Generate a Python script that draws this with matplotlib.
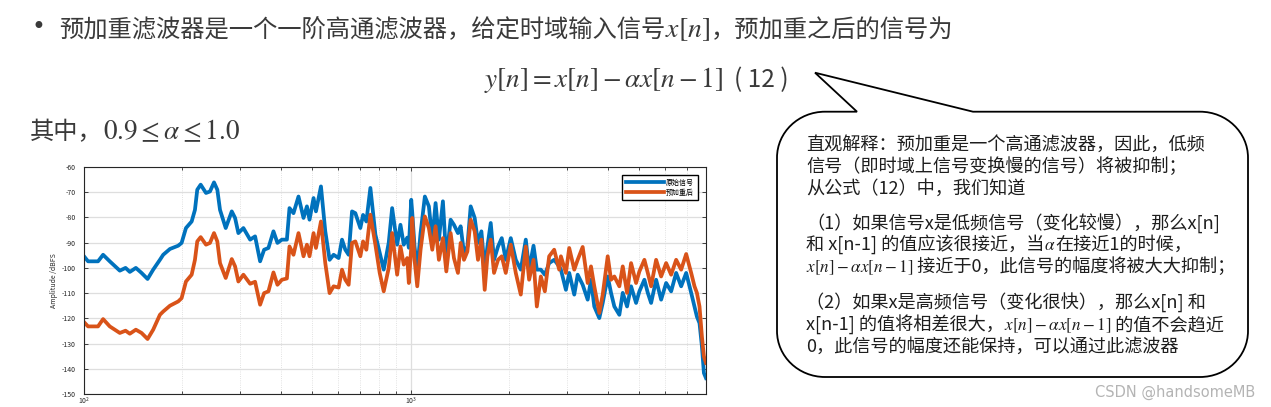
import numpy as np
import matplotlib
matplotlib.use('Agg')
import matplotlib.pyplot as plt
from matplotlib.path import Path
from matplotlib.patches import PathPatch
from matplotlib.ticker import NullFormatter

plt.rcParams['font.family'] = ['Noto Sans CJK SC', 'DejaVu Sans']
plt.rcParams['mathtext.fontset'] = 'stix'
plt.rcParams['axes.unicode_minus'] = False

# frequency (Hz) and amplitude (dBFS)
freq = [100, 102.9, 110.4, 114.4, 119.9, 128.7, 134.0, 138.1, 144.1, 150.0,
        156.5, 162.8, 170.7, 174.7, 183.2, 194.2, 198.9, 205.1, 213.5, 218.5,
        222.1, 227.5, 236.2, 242.9, 249.9, 255.8, 260.7, 271.4, 283.2, 289.9,
        296.7, 307.4, 322.3, 333.8, 345.8, 355.7, 366.7, 379.9, 390.7, 403.1,
        417.6, 425.3, 437.5, 453.2, 469.5, 480.9, 489.8, 503.9, 512.5, 530.9,
        547.3, 564.2, 580.3, 601.2, 615.8, 630.3, 645.2, 660.8, 676.4, 700.7,
        714.2, 731.0, 752.0, 779.0, 803.1, 826.1, 855.8, 876.6, 908.1, 929.5,
        951.4, 974.9, 986.0, 1002.8, 1009.9, 1026.5, 1046.2, 1070.9, 1103.9, 1135.5,
        1163.1, 1190.5, 1218.6, 1253.5, 1284.0, 1323.6, 1354.8, 1393.6, 1420.4, 1453.9,
        1489.3, 1524.4, 1568.0, 1605.0, 1644.0, 1682.7, 1715.1, 1755.6, 1797.0, 1848.5,
        1897.5, 1951.9, 2022.0, 2094.6, 2169.8, 2247.7, 2300.7, 2373.4, 2429.4, 2499.0,
        2570.6, 2650.0, 2745.3, 2844.0, 2878.3, 2981.8, 3052.0, 3162.3, 3239.2, 3355.5,
        3476.0, 3558.0, 3641.8, 3772.7, 3864.3, 4003.0, 4097.4, 4194.1, 4344.8, 4450.3,
        4587.4, 4718.8, 4888.2, 5003.5, 5183.0, 5309.0, 5434.2, 5629.6, 5831.8, 6041.3,
        6258.3, 6483.1, 6716.0, 6957.2, 7207.1, 7377.0, 7503.0, 7642.2, 7772.8, 7883.5,
        8000]

orig_db = [-95.4, -97.4, -97.4, -94.8, -97.4, -101.1, -100.0, -101.6, -100.0, -102.0,
           -104.4, -100.7, -96.8, -94.8, -92.5, -91.2, -90.1, -84.2, -81.6, -77.0,
           -69.0, -67.0, -70.3, -69.7, -66.1, -69.0, -77.0, -84.2, -77.6, -80.2,
           -86.2, -84.2, -88.8, -87.5, -97.4, -92.8, -92.1, -85.5, -90.1, -88.8,
           -88.8, -76.3, -78.3, -71.7, -80.2, -75.6, -80.9, -72.3, -77.6, -67.7,
           -85.5, -96.8, -94.8, -96.1, -88.8, -92.8, -94.8, -77.6, -78.3, -84.2,
           -79.0, -81.6, -68.3, -86.8, -94.0, -100.7, -90.0, -76.3, -90.8, -82.9,
           -90.8, -88.0, -92.0, -73.0, -78.0, -91.5, -100.7, -86.2, -71.7, -75.6,
           -88.8, -74.3, -88.8, -73.6, -96.8, -80.9, -82.9, -86.2, -83.5, -94.1,
           -91.5, -75.6, -80.2, -90.1, -85.5, -100.7, -91.5, -82.2, -96.8, -91.5,
           -88.2, -96.8, -88.2, -96.8, -100.7, -88.8, -100.7, -91.2, -100.7, -100.7,
           -102.7, -98.1, -96.8, -99.4, -100.7, -108.7, -102.0, -110.6, -102.7, -106.7,
           -112.6, -104.7, -115.3, -119.9, -113.9, -103.4, -109.9, -115.3, -118.6, -109.9,
           -115.3, -107.3, -113.9, -109.3, -104.7, -109.9, -113.9, -104.7, -112.6, -106.0,
           -109.3, -102.0, -107.3, -102.0, -109.9, -115.3, -119.3, -121.9, -131.1, -141.7,
           -143.7]

emph_db = [-121.5, -123.2, -123.2, -120.3, -123.2, -125.8, -124.9, -126.1, -124.5, -125.8,
           -128.2, -124.5, -118.6, -117.3, -115.0, -113.3, -112.0, -105.4, -102.7, -96.8,
           -89.5, -87.8, -90.8, -90.1, -86.2, -89.5, -98.1, -104.0, -96.5, -99.4,
           -105.4, -102.7, -106.3, -105.5, -114.6, -110.0, -109.3, -101.8, -106.7, -104.7,
           -104.2, -91.5, -94.8, -86.2, -95.4, -90.8, -95.4, -86.2, -92.1, -81.6,
           -98.1, -110.0, -107.3, -107.8, -100.7, -104.7, -106.7, -90.1, -89.5, -95.4,
           -89.5, -92.8, -78.9, -90.8, -102.0, -109.3, -100.0, -86.2, -102.7, -91.5,
           -98.7, -96.1, -106.0, -92.0, -80.2, -96.8, -107.3, -92.8, -79.6, -84.2,
           -92.8, -83.5, -96.8, -88.2, -101.4, -86.2, -96.1, -102.0, -90.1, -96.8,
           -93.5, -80.9, -85.5, -96.8, -88.8, -108.7, -95.4, -88.8, -102.0, -96.8,
           -95.4, -102.0, -90.8, -102.0, -110.6, -91.5, -104.7, -96.8, -115.3, -103.4,
           -109.3, -95.4, -92.8, -100.7, -95.4, -102.0, -92.1, -100.7, -96.8, -91.7,
           -106.0, -99.4, -107.3, -117.9, -110.6, -95.4, -104.7, -103.4, -107.3, -99.4,
           -109.9, -98.1, -106.0, -101.4, -96.8, -102.0, -107.3, -96.8, -103.4, -98.1,
           -102.7, -96.8, -100.7, -94.5, -102.0, -107.3, -109.9, -115.3, -127.2, -135.1,
           -137.7]

series_names = ['原始信号', '预加重后']
y_ticks = list(range(-150, -59, 10))

W, H = 1271, 407
fig = plt.figure(figsize=(W / 100, H / 100), dpi=100)
fig.patch.set_facecolor('white')

# ---- spectrum chart ----
ax = fig.add_axes([84 / W, 1 - 394 / H, (706 - 84) / W, (394 - 167) / H])
ax.semilogx(freq, orig_db, color='#0072BD', lw=2.7, label=series_names[0])
ax.semilogx(freq, emph_db, color='#D95319', lw=2.7, label=series_names[1])
ax.set_xlim(100, 8000)
ax.set_ylim(-150, -60)
ax.set_yticks(y_ticks)
ax.xaxis.set_minor_formatter(NullFormatter())
ax.set_axisbelow(True)
ax.grid(True, which='major', color='#dedede', lw=0.9)
ax.grid(True, which='minor', axis='x', color='#d8d8d8', lw=0.6, ls=':')
ax.tick_params(which='both', direction='in', top=True, right=True,
               labelsize=5, width=0.6, colors='#262626')
ax.tick_params(axis='y', pad=6)
ax.tick_params(axis='x', pad=1)
ax.tick_params(which='major', length=3)
ax.tick_params(which='minor', length=2)
for s in ax.spines.values():
    s.set_linewidth(0.8)
    s.set_color('#262626')
ax.set_ylabel('Amplitude /dBFS', fontsize=5, labelpad=3, color='#262626')
ax.legend(loc='upper right', fontsize=5, handlelength=5.5, fancybox=False,
          edgecolor='black', framealpha=1, borderaxespad=1.2,
          handletextpad=0.3, borderpad=0.5, labelspacing=0.3)

# ---- slide decorations in pixel coordinates ----
deco = fig.add_axes([0, 0, 1, 1], zorder=-1)
deco.set_xlim(0, W)
deco.set_ylim(H, 0)
deco.axis('off')
renderer = fig.canvas.get_renderer()

CJK = dict(family=['Noto Sans CJK SC', 'DejaVu Sans'])
MATH = dict(fontsize=12.3)


def runs(x, y, parts, size, color):
    for s, style in parts:
        kw = dict(fontsize=size, va='baseline', ha='left', color=color)
        kw.update(style)
        t = deco.text(x, y, s, **kw)
        x += t.get_window_extent(renderer).width
    return x


top_col = '#3a3a3a'
deco.text(38, 34, '•', fontsize=17, va='baseline', ha='center', color=top_col,
          family='DejaVu Sans')
runs(59, 37, [('预加重滤波器是一个一阶高通滤波器，给定时域输入信号', CJK),
              (r'$x[n]$', dict(fontsize=20)), ('，预加重之后的信号为', CJK)], 17.5, top_col)
runs(484, 87, [(r'$y[n]=x[n]-\alpha x[n-1]$', dict(fontsize=19.5)),
               ('  ( 12 )', CJK)], 17.5, top_col)
runs(30, 139, [('其中，', CJK), (r'$0.9\leq\alpha\leq 1.0$', dict(fontsize=19.5))],
     17.5, top_col)

# speech bubble with a tail pointing at the equation
L, R, T, B = 777, 1248, 111.7, 377
rx, ry = 48, 46
k = 0.5523
verts = [(857, T), (815, 72.7), (973, T), (R - rx, T),
         (R - rx + k * rx, T), (R, T + ry - k * ry), (R, T + ry),
         (R, B - ry),
         (R, B - ry + k * ry), (R - rx + k * rx, B), (R - rx, B),
         (L + rx, B),
         (L + rx - k * rx, B), (L, B - ry + k * ry), (L, B - ry),
         (L, T + ry),
         (L, T + ry - k * ry), (L + rx - k * rx, T), (L + rx, T),
         (857, T)]
codes = [Path.MOVETO, Path.LINETO, Path.LINETO, Path.LINETO,
         Path.CURVE4, Path.CURVE4, Path.CURVE4,
         Path.LINETO,
         Path.CURVE4, Path.CURVE4, Path.CURVE4,
         Path.LINETO,
         Path.CURVE4, Path.CURVE4, Path.CURVE4,
         Path.LINETO,
         Path.CURVE4, Path.CURVE4, Path.CURVE4,
         Path.CLOSEPOLY]
deco.add_patch(PathPatch(Path(verts, codes), facecolor='white',
                         edgecolor='black', lw=1.3, joinstyle='miter'))

bc = '#1e1e1e'
bs = 13.1
lines = [
    (150, [('直观解释：预加重是一个高通滤波器，因此，低频', CJK)]),
    (172, [('信号（即时域上信号变换慢的信号）将被抑制；', CJK)]),
    (194, [('从公式（12）中，我们知道', CJK)]),
    (229, [('（1）如果信号x是低频信号（变化较慢），那么x[n]', CJK)]),
    (250, [('和 x[n-1] 的值应该很接近，当', CJK), (r'$\alpha$', MATH),
           ('在接近1的时候，', CJK)]),
    (272, [(r'$x[n]-\alpha x[n-1]$', MATH), (' 接近于0，此信号的幅度将被大大抑制；', CJK)]),
    (308, [('（2）如果x是高频信号（变化很快），那么x[n] 和', CJK)]),
    (330, [('x[n-1] 的值将相差很大，', CJK), (r'$x[n]-\alpha x[n-1]$', MATH),
           (' 的值不会趋近', CJK)]),
    (352, [('0，此信号的幅度还能保持，可以通过此滤波器', CJK)]),
]
for yb, parts in lines:
    runs(806, yb, parts, bs, bc)

deco.text(1255, 397, 'CSDN @handsomeMB', fontsize=10.5, ha='right', va='baseline',
          color='#b4b4b4', family='DejaVu Sans')

fig.savefig('out.png', dpi=100, facecolor='white')
